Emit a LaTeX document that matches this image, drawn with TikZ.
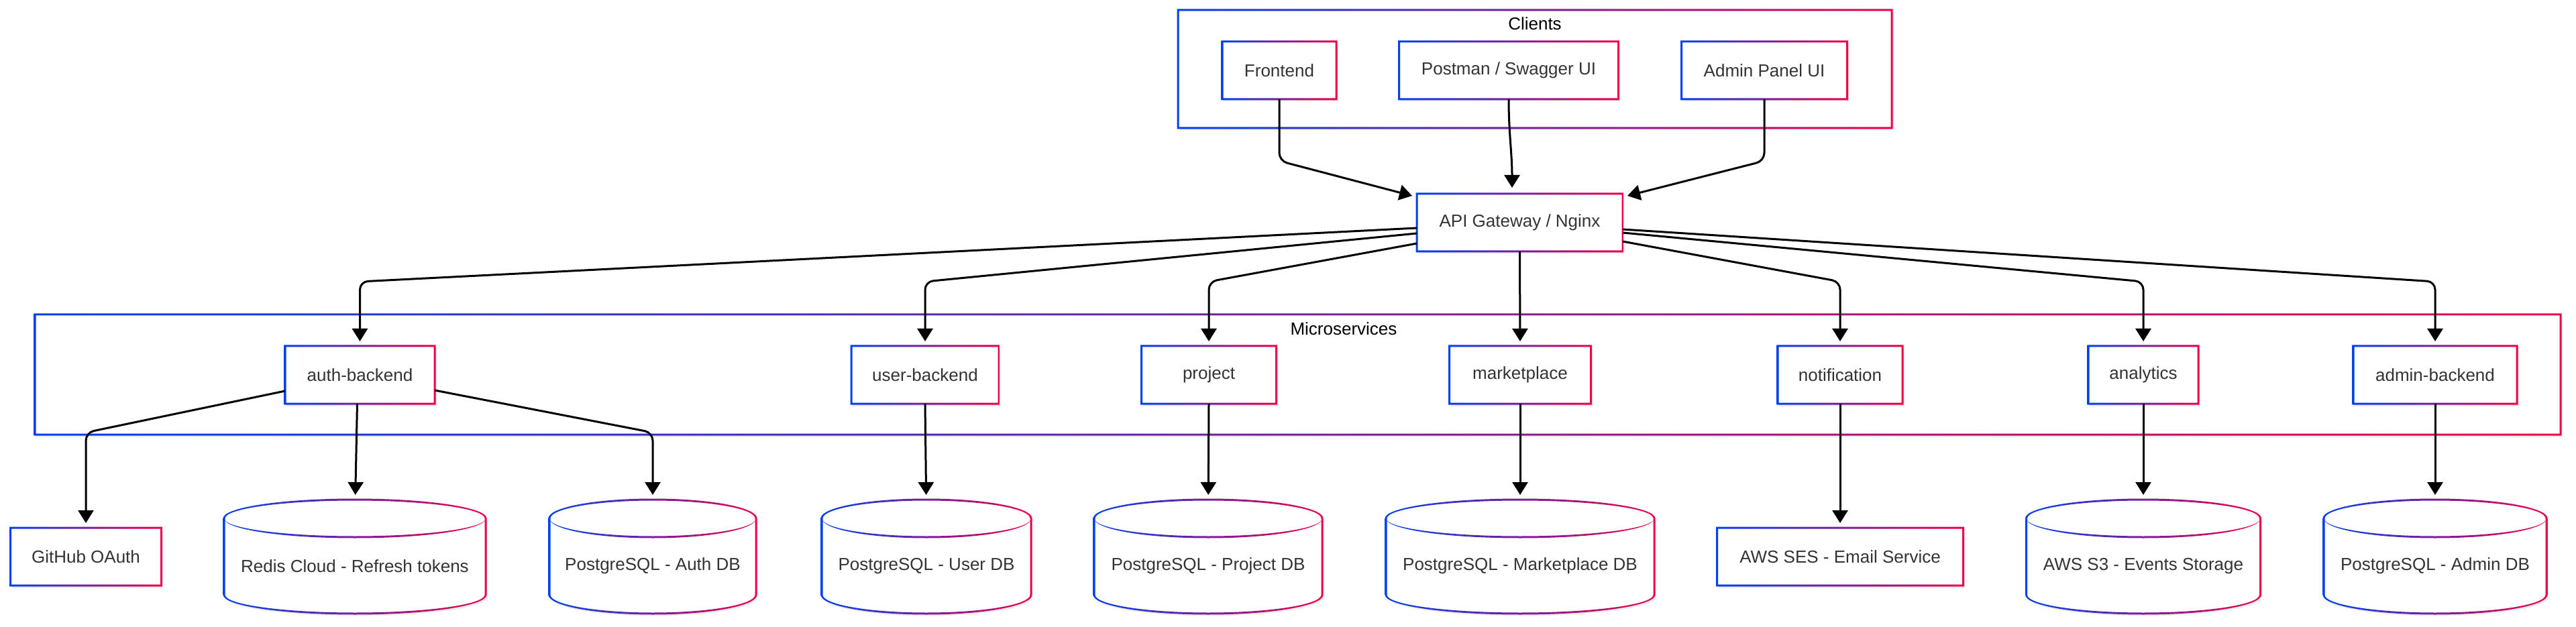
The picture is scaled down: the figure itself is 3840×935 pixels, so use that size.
\documentclass[tikz,border=0pt]{standalone}
\usepackage{fontspec}
\setmainfont{Liberation Sans}
\usetikzlibrary{arrows.meta}
\definecolor{cblue}{HTML}{0040F0}
\definecolor{cred}{HTML}{F00048}
\definecolor{txt}{HTML}{333333}
\tikzset{
  gshade/.style={left color=cblue, right color=cred},
  boxtext/.style={rectangle, inner sep=0pt, outer sep=0pt, minimum height=43pt,
    text=txt, font=\fontsize{13pt}{15pt}\selectfont},
  lbl/.style={text=black, font=\fontsize{13pt}{15pt}\selectfont, inner sep=0pt},
  cyltext/.style={rectangle, inner sep=0pt, outer sep=0pt, minimum height=71pt, text=txt, font=\fontsize{13pt}{15pt}\selectfont},
  conn/.style={draw=black, line width=1.5pt, -{Triangle[length=9.5pt,width=11.5pt]}, shorten >=3.5pt},
  dbconn/.style={conn, shorten >=17.5pt},
}
% gradient frame: x1 y1 x2 y2 (px, centre line of the border)
\newcommand\gframe[4]{%
  \fill[black!8] ({#1+2},{#2+3.5}) rectangle ({#3+2.5},{#4+3.5});
  \fill[white] ({#1},{#2}) rectangle ({#3},{#4});
  \shade[gshade, even odd rule] ({#1-1.5},{#2-1.5}) rectangle ({#3+1.5},{#4+1.5})
     ({#1+1.5},{#2+1.5}) rectangle ({#3-1.5},{#4-1.5});
}
% box: name, cx, cy, width (px), text
\newcommand\gbox[5]{%
  \gframe{#2-#4/2}{#3-43}{#2+#4/2}{#3+43}
  \node[boxtext, minimum width={#4/2*1pt}] (#1) at (#2,#3) {#5};
}
% cylinder: name, center x (px), width (px), text
\newcommand\dbcyl[4]{%
  \fill[black!8] ({#2-#3/2+2},776) arc[start angle=180,end angle=0,x radius={#3/4*1pt},y radius=14pt]
     -- ({#2+#3/2+2},890.5) arc[start angle=0,end angle=-180,x radius={#3/4*1pt},y radius=14pt] -- cycle;
  \fill[white] ({#2-#3/2},773) arc[start angle=180,end angle=0,x radius={#3/4*1pt},y radius=14pt]
     -- ({#2+#3/2},887) arc[start angle=0,end angle=-180,x radius={#3/4*1pt},y radius=14pt] -- cycle;
  \shade[gshade, even odd rule]
     ({#2-#3/2-1.5},773) arc[start angle=180,end angle=0,x radius={(#3/2+1.5)/2*1pt},y radius=14.75pt]
     -- ({#2+#3/2+1.5},887) arc[start angle=0,end angle=-180,x radius={(#3/2+1.5)/2*1pt},y radius=14.75pt] -- cycle
     ({#2-#3/2+1.5},773) arc[start angle=180,end angle=0,x radius={(#3/2-1.5)/2*1pt},y radius=13.25pt]
     -- ({#2+#3/2-1.5},887) arc[start angle=0,end angle=-180,x radius={(#3/2-1.5)/2*1pt},y radius=13.25pt] -- cycle;
  \shade[gshade]
     ({#2-#3/2},773) arc[start angle=180,end angle=360,x radius={#3/4*1pt},y radius=14.75pt]
     arc[start angle=0,end angle=-180,x radius={#3/4*1pt},y radius=13.25pt] -- cycle;
  \node[cyltext, minimum width={#3/2*1pt}] (#1) at (#2,844) {#4};
}
\begin{document}
\begin{tikzpicture}[x=0.5pt,y=-0.5pt]
\useasboundingbox (0,0) rectangle (3840,935);
\fill[white] (0,0) rectangle (3840,935);

% containers
\gframe{1756}{15}{2820}{191}
\node[inner sep=0pt, minimum width=532pt, minimum height=88pt] (clients) at (2288,103) {};
\node[lbl] (clientslbl) at (2288,35) {Clients};
\gframe{52}{469}{3817}{648}
\node[inner sep=0pt, minimum width=1882.5pt, minimum height=89.5pt] (micro) at (1934.5,558.5) {};
\node[lbl] (microlbl) at (2003,490) {Microservices};

% clients
\gbox{fe}{1907}{105}{170}{Frontend}
\gbox{pm}{2249}{105}{327}{Postman / Swagger UI}
\gbox{ap}{2630}{105}{247}{Admin Panel UI}

% gateway
\gbox{gw}{2265.5}{332}{307}{API Gateway / Nginx}

% services
\gbox{auth}{536.5}{559}{223}{auth-backend}
\gbox{user}{1379}{559}{220}{user-backend}
\gbox{proj}{1802}{559}{201}{project}
\gbox{mkt}{2266}{559}{211}{marketplace}
\gbox{notif}{2743}{559}{186}{notification}
\gbox{anl}{3195}{559}{164}{analytics}
\gbox{adm}{3630}{559}{244}{admin-backend}

% bottom row
\gbox{gh}{128}{830}{225}{GitHub OAuth}
\gbox{ses}{2743}{830}{367}{AWS SES - Email Service}
\dbcyl{rdb}{529}{390}{Redis Cloud - Refresh tokens}
\dbcyl{authdb}{973}{308}{PostgreSQL - Auth DB}
\dbcyl{udb}{1381}{312}{PostgreSQL - User DB}
\dbcyl{pdb}{1801}{340}{PostgreSQL - Project DB}
\dbcyl{mdb}{2266}{400}{PostgreSQL - Marketplace DB}
\dbcyl{s3}{3195}{349}{AWS S3 - Events Storage}
\dbcyl{admdb}{3630}{332}{PostgreSQL - Admin DB}

% clients -> gateway
\draw[conn, shorten >=0pt, rounded corners=6pt] (fe.south) -- (fe.south |- 0,240) -- ([xshift=-3.5pt,yshift=-1.5pt]gw.north west);
\draw[conn, shorten >=0pt] (pm.south) to[out=-90,in=90] ([xshift=-5.75pt,yshift=4.5pt]gw.north);
\draw[conn, shorten >=0pt, rounded corners=6pt] (ap.south) -- (ap.south |- 0,240) -- ([xshift=3.5pt,yshift=-1.5pt]gw.north east);

% gateway -> services
\draw[conn, rounded corners=6pt] ([yshift=-4pt]gw.west) -- (auth.north |- 0,420) -- (auth.north);
\draw[conn, rounded corners=6pt] ([yshift=-8pt]gw.west) -- (user.north |- 0,420) -- (user.north);
\draw[conn, rounded corners=6pt] ([yshift=-15.5pt]gw.west) -- (proj.north |- 0,420) -- (proj.north);
\draw[conn] (gw.south) -- (mkt.north);
\draw[conn, rounded corners=6pt] ([yshift=-14pt]gw.east) -- (notif.north |- 0,420) -- (notif.north);
\draw[conn, rounded corners=6pt] ([yshift=-7.5pt]gw.east) -- (anl.north |- 0,420) -- (anl.north);
\draw[conn, rounded corners=6pt] ([yshift=-5pt]gw.east) -- (adm.north |- 0,420) -- (adm.north);

% auth-backend -> externals
\draw[conn, rounded corners=6pt] ([yshift=-12pt]auth.west) -- (gh.north |- 0,645) -- (gh.north);
\draw[dbconn] ([xshift=-2pt]auth.south) -- (rdb.north);
\draw[dbconn, rounded corners=6pt] ([yshift=-11.5pt]auth.east) -- (authdb.north |- 0,645) -- (authdb.north);

% services -> storage
\draw[dbconn] (user.south) -- (udb.north);
\draw[dbconn] (proj.south) -- (pdb.north);
\draw[dbconn] (mkt.south) -- (mdb.north);
\draw[conn] (notif.south) -- (ses.north);
\draw[dbconn] (anl.south) -- (s3.north);
\draw[dbconn] (adm.south) -- (admdb.north);
\end{tikzpicture}
\end{document}
